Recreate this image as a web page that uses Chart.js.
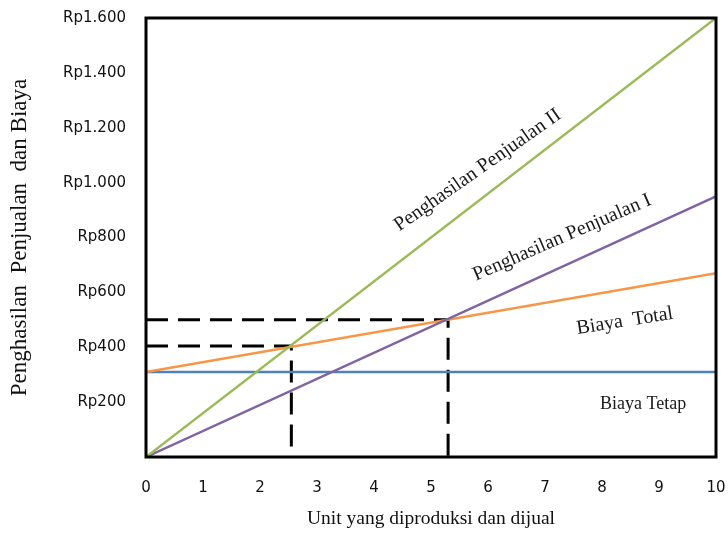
<!DOCTYPE html>
<html>
<head>
<meta charset="utf-8">
<script src="https://cdn.jsdelivr.net/npm/chart.js@4/dist/chart.umd.min.js"></script>
<style>
  html, body { margin: 0; padding: 0; background: #fff; }
  #wrap { width: 728px; height: 535px; }
</style>
</head>
<body>
<div id="wrap"><canvas id="c" width="728" height="535"></canvas></div>
<script>
// Units produced and sold (x) and the amounts in Rupiah (y)
const units = [0, 10];
const fixedCost = [310, 310];
const totalCost = [310, 670];
const revenueI = [0, 950];
const revenueII = [0, 1600];

// Break-even points (units, amount) for revenue II and revenue I
const breakEvenUnits = [2.55, 5.3];
const breakEvenAmounts = [405, 500];

const yTicks = [0, 200, 400, 600, 800, 1000, 1200, 1400, 1600];
const xTicks = [0, 1, 2, 3, 4, 5, 6, 7, 8, 9, 10];

// Line labels: text, anchor (units, amount), rotation in degrees
const lineLabels = [
  { text: 'Penghasilan Penjualan II', x: 5.82, y: 1045, angle: -35, size: 20 },
  { text: 'Penghasilan Penjualan I', x: 7.3, y: 800, angle: -23.5, size: 20 },
  { text: 'Biaya  Total', x: 8.4, y: 495, angle: -9, size: 20 },
  { text: 'Biaya Tetap', x: 8.72, y: 193, angle: 0, size: 18 }
];

const toPoints = (xs, ys) => xs.map((x, i) => ({ x, y: ys[i] }));
const guide = (u, a) => [{ x: 0, y: a }, { x: u, y: a }, { x: u, y: 0 }];

const formatRp = v => v === 0 ? '' : 'Rp' + String(v).replace(/\B(?=(\d{3})+(?!\d))/g, '.');

const lineStyle = color => ({
  showLine: true, borderColor: color, backgroundColor: color,
  borderWidth: 2.5, pointRadius: 0, fill: false
});

// Let tick labels overhang the plot edges instead of shrinking the plot
const noOverhang = s => {
  s.paddingTop = 0; s.paddingBottom = 0; s.paddingLeft = 0; s.paddingRight = 0;
};

const frame = {
  id: 'frame',
  afterDatasetsDraw(chart) {
    const { ctx, chartArea: a } = chart;
    ctx.save();
    ctx.strokeStyle = '#000';
    ctx.lineWidth = 3;
    ctx.strokeRect(a.left, a.top, a.right - a.left, a.bottom - a.top);
    ctx.restore();
  }
};

const labels = {
  id: 'lineLabels',
  afterDraw(chart) {
    const { ctx, scales: { x, y } } = chart;
    ctx.save();
    ctx.fillStyle = '#1a1a1a';
    ctx.textAlign = 'center';
    ctx.textBaseline = 'middle';
    lineLabels.forEach(l => {
      ctx.save();
      ctx.translate(x.getPixelForValue(l.x), y.getPixelForValue(l.y));
      ctx.rotate(l.angle * Math.PI / 180);
      ctx.font = l.size + 'px "Liberation Serif", "Times New Roman", serif';
      ctx.fillText(l.text, 0, 0);
      ctx.restore();
    });
    ctx.restore();
  }
};

new Chart(document.getElementById('c'), {
  type: 'scatter',
  data: {
    datasets: [
      Object.assign({ label: 'Penghasilan Penjualan II', data: toPoints(units, revenueII) }, lineStyle('#9BBB59')),
      Object.assign({ label: 'Penghasilan Penjualan I', data: toPoints(units, revenueI) }, lineStyle('#8064A2')),
      Object.assign({ label: 'Biaya Total', data: toPoints(units, totalCost) }, lineStyle('#F79646')),
      Object.assign({ label: 'Biaya Tetap', data: toPoints(units, fixedCost) }, lineStyle('#4F81BD')),
      ...breakEvenUnits.map((u, i) => ({
        label: 'BEP ' + (i + 1), data: guide(u, breakEvenAmounts[i]),
        showLine: true, borderColor: '#000', borderWidth: 3, borderDash: [22, 10],
        pointRadius: 0, fill: false
      }))
    ]
  },
  options: {
    responsive: false,
    animation: false,
    layout: { padding: { left: 0, right: 12, top: 18, bottom: 0 } },
    plugins: { legend: { display: false }, tooltip: { enabled: false } },
    scales: {
      x: {
        type: 'linear', min: 0, max: 10,
        afterBuildTicks: s => { s.ticks = xTicks.map(v => ({ value: v })); },
        afterFit: s => { s.height = 78; noOverhang(s); },
        grid: { display: false, drawTicks: false },
        border: { display: false },
        ticks: { padding: 22, color: '#111', font: { family: '"DejaVu Sans", sans-serif', size: 15 } },
        title: {
          display: true, text: 'Unit yang diproduksi dan dijual', color: '#111',
          font: { family: '"Liberation Serif", "Times New Roman", serif', size: 19.5 },
          padding: { top: 0, bottom: 4 }
        }
      },
      y: {
        type: 'linear', min: 0, max: 1600,
        afterBuildTicks: s => { s.ticks = yTicks.map(v => ({ value: v })); },
        afterFit: s => { s.width = 146; noOverhang(s); },
        grid: { display: false, drawTicks: false },
        border: { display: false },
        ticks: { padding: 20, color: '#111', callback: formatRp,
          font: { family: '"DejaVu Sans", sans-serif', size: 15 } },
        title: {
          display: true, text: 'Penghasilan  Penjualan  dan Biaya', color: '#111',
          font: { family: '"Liberation Serif", "Times New Roman", serif', size: 23 },
          padding: { top: 6, bottom: 0 }
        }
      }
    }
  },
  plugins: [frame, labels]
});
</script>
</body>
</html>
